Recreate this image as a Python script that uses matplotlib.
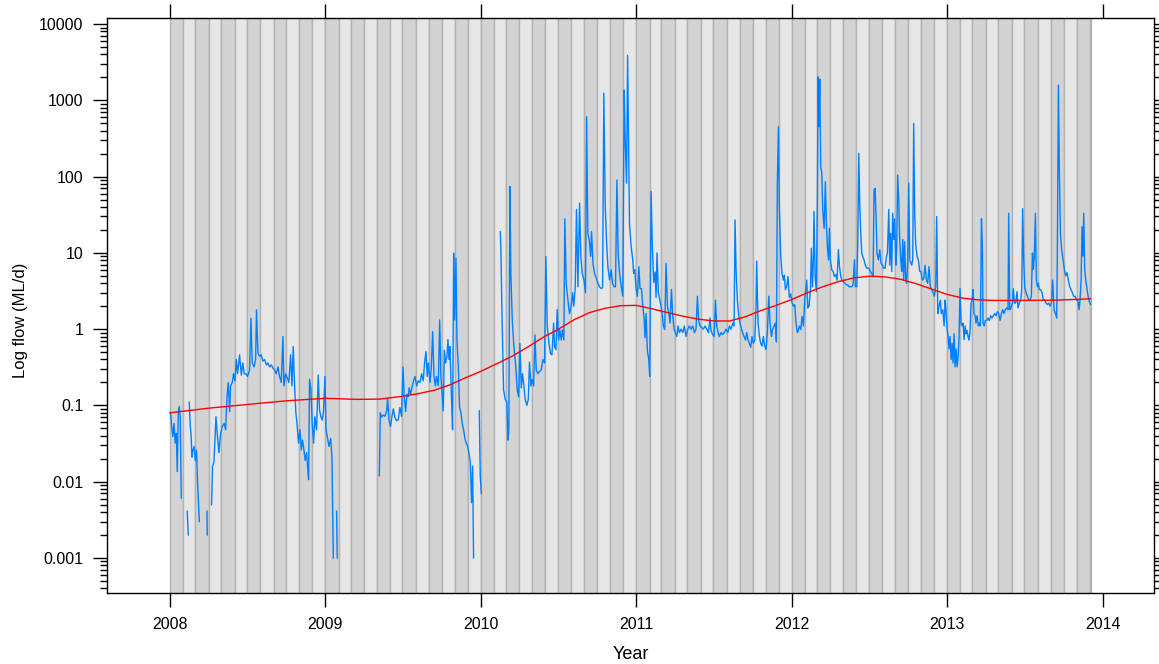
import numpy as np
import matplotlib
matplotlib.use("Agg")
import matplotlib.pyplot as plt
from matplotlib.patches import Rectangle
import datetime as dt

matplotlib.rcParams['font.family'] = ['Liberation Sans', 'DejaVu Sans']
matplotlib.rcParams['font.size'] = 11

nan = np.nan

# daily flow (ML/d), decimal year; nan = gap / zero flow
flow_year = [
    2008.004, 2008.011, 2008.019, 2008.026, 2008.034, 2008.041, 2008.047, 2008.054, 2008.060, 2008.066, 2008.073, 2008.075,
    2008.111, 2008.118, 2008.120,
    2008.124, 2008.131, 2008.137, 2008.141, 2008.148, 2008.156, 2008.163, 2008.171, 2008.178, 2008.189, 2008.19,
    2008.238, 2008.240, 2008.242,
    2008.268, 2008.274, 2008.283, 2008.296, 2008.304, 2008.315, 2008.326, 2008.337, 2008.349, 2008.358,
    2008.367, 2008.375, 2008.384, 2008.390, 2008.401, 2008.409, 2008.418, 2008.427, 2008.435, 2008.448,
    2008.459, 2008.469, 2008.478, 2008.489, 2008.499, 2008.512, 2008.521, 2008.529, 2008.542, 2008.551,
    2008.557, 2008.566, 2008.577, 2008.587, 2008.598, 2008.609, 2008.620, 2008.630, 2008.641, 2008.652,
    2008.662, 2008.673, 2008.684, 2008.695, 2008.705, 2008.716, 2008.727, 2008.733, 2008.744, 2008.755,
    2008.765, 2008.776, 2008.785, 2008.793, 2008.802, 2008.810, 2008.819, 2008.827, 2008.836, 2008.845,
    2008.853, 2008.862, 2008.870, 2008.879, 2008.885, 2008.892, 2008.898, 2008.907, 2008.915, 2008.924,
    2008.932, 2008.943, 2008.954, 2008.962, 2008.971, 2008.980, 2008.988, 2008.997, 2009.004, 2009.012,
    2009.023, 2009.034, 2009.042, 2009.051, 2009.053,
    2009.072, 2009.076, 2009.078,
    2009.347, 2009.353, 2009.361, 2009.372, 2009.383, 2009.394, 2009.400, 2009.409, 2009.419, 2009.428,
    2009.437, 2009.447, 2009.458, 2009.469, 2009.479, 2009.490, 2009.499, 2009.507, 2009.516, 2009.524,
    2009.533, 2009.539, 2009.548, 2009.559, 2009.567, 2009.576, 2009.587, 2009.597, 2009.608, 2009.619,
    2009.629, 2009.638, 2009.647, 2009.655, 2009.662, 2009.673, 2009.681, 2009.690, 2009.698, 2009.707,
    2009.715, 2009.726, 2009.735, 2009.743, 2009.752, 2009.758, 2009.765, 2009.773, 2009.782, 2009.788,
    2009.795, 2009.801, 2009.808, 2009.814, 2009.818, 2009.825, 2009.831, 2009.840, 2009.846, 2009.855,
    2009.863, 2009.872, 2009.880, 2009.889, 2009.897, 2009.906, 2009.915, 2009.923, 2009.932, 2009.940,
    2009.947, 2009.953, 2009.955,
    2009.990, 2009.996, 2010.003, 2010.005,
    2010.125, 2010.129, 2010.135, 2010.146, 2010.157, 2010.167, 2010.174, 2010.180, 2010.187, 2010.193,
    2010.202, 2010.213, 2010.223, 2010.234, 2010.243, 2010.251, 2010.260, 2010.268, 2010.277, 2010.285,
    2010.296, 2010.305, 2010.313, 2010.322, 2010.330, 2010.339, 2010.348, 2010.356, 2010.367, 2010.378,
    2010.388, 2010.399, 2010.410, 2010.418, 2010.427, 2010.438, 2010.448, 2010.457, 2010.468, 2010.474,
    2010.483, 2010.491, 2010.500, 2010.508, 2010.517, 2010.525, 2010.534, 2010.540, 2010.549, 2010.560,
    2010.570, 2010.581, 2010.590, 2010.598, 2010.607, 2010.615, 2010.624, 2010.635, 2010.643, 2010.652,
    2010.663, 2010.673, 2010.680, 2010.688, 2010.697, 2010.706, 2010.712, 2010.721, 2010.731, 2010.742,
    2010.753, 2010.763, 2010.774, 2010.783, 2010.791, 2010.800, 2010.808, 2010.817, 2010.828, 2010.838,
    2010.847, 2010.856, 2010.866, 2010.875, 2010.883, 2010.892, 2010.903, 2010.913, 2010.922, 2010.928,
    2010.937, 2010.944, 2010.950, 2010.956, 2010.967,
    2010.977, 2010.983, 2010.990, 2010.998, 2011.007, 2011.016, 2011.024, 2011.033, 2011.041, 2011.050,
    2011.056, 2011.063, 2011.071, 2011.080, 2011.086, 2011.095, 2011.103, 2011.112, 2011.121, 2011.127,
    2011.133, 2011.142, 2011.151, 2011.159, 2011.166, 2011.174, 2011.183, 2011.191, 2011.200, 2011.209,
    2011.217, 2011.226, 2011.234, 2011.243, 2011.251, 2011.260, 2011.268, 2011.277, 2011.288, 2011.299,
    2011.309, 2011.320, 2011.331, 2011.341, 2011.352, 2011.363, 2011.374, 2011.384, 2011.393, 2011.401,
    2011.410, 2011.421, 2011.431, 2011.442, 2011.453, 2011.464, 2011.474, 2011.481, 2011.491, 2011.500,
    2011.509, 2011.517, 2011.526, 2011.534, 2011.545, 2011.556, 2011.566, 2011.577, 2011.588, 2011.599,
    2011.609, 2011.620, 2011.629, 2011.635, 2011.642, 2011.650, 2011.659, 2011.667, 2011.676, 2011.684,
    2011.693, 2011.702, 2011.710, 2011.719, 2011.727, 2011.736, 2011.744, 2011.753, 2011.762, 2011.770,
    2011.774, 2011.783, 2011.792, 2011.800, 2011.809, 2011.817, 2011.826, 2011.834, 2011.843, 2011.852,
    2011.860, 2011.869, 2011.877, 2011.886, 2011.894, 2011.901, 2011.907, 2011.914, 2011.920, 2011.929,
    2011.937, 2011.946, 2011.952, 2011.959, 2011.967, 2011.976, 2011.984, 2011.993, 2012.002, 2012.010,
    2012.019, 2012.027, 2012.036,
    2012.040, 2012.049, 2012.058, 2012.066, 2012.075, 2012.083, 2012.090, 2012.096, 2012.103, 2012.111,
    2012.120, 2012.126, 2012.133, 2012.139, 2012.143, 2012.150, 2012.158, 2012.165, 2012.169, 2012.175,
    2012.180, 2012.186, 2012.193, 2012.199, 2012.208, 2012.216, 2012.223, 2012.229, 2012.236, 2012.242,
    2012.248, 2012.257, 2012.266, 2012.274, 2012.283, 2012.291, 2012.300, 2012.306, 2012.315, 2012.323,
    2012.332, 2012.343, 2012.351, 2012.360, 2012.368, 2012.377, 2012.386, 2012.394, 2012.403, 2012.409,
    2012.418, 2012.424, 2012.431, 2012.437, 2012.443, 2012.450, 2012.456, 2012.465, 2012.473, 2012.482,
    2012.491, 2012.497, 2012.506, 2012.514, 2012.523, 2012.529, 2012.536, 2012.542, 2012.548, 2012.557,
    2012.566, 2012.574, 2012.583, 2012.591, 2012.600, 2012.609, 2012.615, 2012.624, 2012.630, 2012.636,
    2012.643, 2012.649, 2012.656, 2012.662, 2012.669, 2012.675, 2012.681, 2012.688, 2012.694, 2012.701,
    2012.707, 2012.714, 2012.720, 2012.726, 2012.733, 2012.739, 2012.746, 2012.752, 2012.759, 2012.765,
    2012.771, 2012.778, 2012.784, 2012.791, 2012.797, 2012.806, 2012.814, 2012.823, 2012.831, 2012.840,
    2012.849, 2012.857, 2012.866, 2012.874, 2012.883, 2012.891, 2012.900, 2012.909, 2012.917, 2012.926,
    2012.932, 2012.939, 2012.947, 2012.956, 2012.962, 2012.971,
    2012.980, 2012.986, 2012.992, 2012.999, 2013.005, 2013.012, 2013.018, 2013.025, 2013.031, 2013.037,
    2013.044, 2013.050, 2013.057, 2013.063, 2013.070, 2013.076, 2013.082, 2013.089, 2013.095, 2013.102,
    2013.108, 2013.115, 2013.121, 2013.127, 2013.134, 2013.140, 2013.147, 2013.153, 2013.160, 2013.166,
    2013.172, 2013.179, 2013.185, 2013.192, 2013.200, 2013.207, 2013.213, 2013.220, 2013.226, 2013.230,
    2013.237, 2013.245, 2013.254, 2013.263, 2013.271, 2013.280, 2013.288, 2013.297, 2013.305, 2013.314,
    2013.323, 2013.331, 2013.340, 2013.348, 2013.357, 2013.365, 2013.374, 2013.383, 2013.391, 2013.395,
    2013.402, 2013.410, 2013.419, 2013.425, 2013.432, 2013.440, 2013.449, 2013.455, 2013.464, 2013.473,
    2013.479, 2013.485, 2013.492, 2013.498, 2013.507, 2013.516, 2013.524, 2013.533, 2013.541, 2013.548,
    2013.554, 2013.560, 2013.567, 2013.573, 2013.580, 2013.586, 2013.593, 2013.601, 2013.610, 2013.618,
    2013.627, 2013.635, 2013.644, 2013.653, 2013.661, 2013.670, 2013.678, 2013.687, 2013.696, 2013.704,
    2013.708, 2013.715, 2013.721, 2013.728, 2013.736, 2013.745, 2013.753, 2013.762, 2013.770, 2013.779,
    2013.788, 2013.796, 2013.805, 2013.813, 2013.822, 2013.831, 2013.839, 2013.848, 2013.854, 2013.861,
    2013.867, 2013.873, 2013.878, 2013.884, 2013.891, 2013.897, 2013.906, 2013.914, 2013.922,
]
flow_val = [
    0.081, 0.053, 0.039, 0.058, 0.032, 0.043, 0.0136, 0.083, 0.097, 0.071, 0.0061, nan,
    0.0041, 0.002, nan,
    0.11, 0.053, 0.039, 0.021, 0.026, 0.029, 0.019, 0.026, 0.0095, 0.003, nan,
    0.0041, 0.002, nan,
    0.005, 0.016, 0.018, 0.071, 0.043, 0.024, 0.043, 0.053, 0.058, 0.048,
    0.13, 0.20, 0.083, 0.18, 0.20, 0.26, 0.21, 0.40, 0.26, 0.46,
    0.25, 0.36, 0.26, 0.26, 0.24, 0.29, 1.39, 0.36, 0.32, 0.40,
    1.79, 0.48, 0.44, 0.46, 0.38, 0.40, 0.34, 0.36, 0.32, 0.34,
    0.31, 0.29, 0.26, 0.32, 0.24, 0.20, 0.80, 0.18, 0.26, 0.23,
    0.20, 0.46, 0.18, 0.59, 0.18, 0.08, 0.053, 0.032, 0.048, 0.026,
    0.035, 0.026, 0.019, 0.024, 0.016, 0.0106, 0.22, 0.16, 0.058, 0.032,
    0.071, 0.048, 0.25, 0.088, 0.071, 0.064, 0.085, 0.24, 0.048, 0.039,
    0.029, 0.037, 0.021, 0.001, nan,
    0.0041, 0.001, nan,
    0.012, 0.08, 0.07, 0.075, 0.072, 0.085, 0.124, 0.064, 0.053, 0.072,
    0.09, 0.07, 0.063, 0.065, 0.094, 0.072, 0.32, 0.13, 0.083, 0.14,
    0.13, 0.17, 0.14, 0.18, 0.21, 0.24, 0.18, 0.21, 0.20, 0.26,
    0.21, 0.36, 0.51, 0.24, 0.36, 0.20, 0.31, 0.93, 0.25, 0.18,
    0.24, 0.18, 1.32, 0.24, 0.13, 0.085, 0.53, 0.36, 0.44, 0.73,
    0.40, 0.59, 0.20, 0.08, 0.048, 9.9, 1.32, 8.5, 0.73, 0.32,
    0.094, 0.08, 0.058, 0.048, 0.037, 0.032, 0.029, 0.024, 0.018, 0.0053,
    0.016, 0.001, nan,
    0.085, 0.012, 0.007, nan,
    19, 11, 2.0, 0.16, 0.12, 0.11, 0.035, 0.048, 74, 5.4,
    1.3, 0.58, 0.35, 0.16, 0.13, 0.65, 0.17, 0.26, 0.18, 0.12,
    0.10, 0.12, 0.37, 0.18, 0.22, 0.18, 0.84, 0.29, 0.26, 0.28,
    0.29, 0.40, 0.36, 9.0, 1.1, 0.65, 0.48, 0.46, 1.2, 0.59,
    0.54, 1.8, 0.72, 0.98, 0.72, 0.98, 0.72, 28, 3.9, 2.4,
    1.6, 2.0, 3.0, 2.0, 3.6, 37, 3.6, 45, 9.0, 5.4,
    4.4, 3.0, 611, 18, 14.8, 9.0, 19, 7.3, 5.4, 4.7,
    4.0, 3.6, 3.4, 3.5, 1240, 41, 15, 6.6, 4.4, 6.0,
    4.0, 3.6, 3.6, 90, 9.9, 5.4, 3.6, 2.7, 1360, 334,
    82, 3900, 300, 24, 12,
    8.1, 5.4, 6.0, 3.4, 2.7, 6.6, 3.4, 3.4, 2.1, 1.4,
    0.77, 1.6, 0.52, 0.40, 0.24, 64, 12, 4.1, 5.6, 2.6,
    10, 3.0, 2.4, 2.0, 1.6, 1.1, 0.99, 7.3, 2.0, 1.6,
    1.2, 3.3, 1.5, 1.0, 0.9, 0.8, 1.1, 0.9, 1.0, 0.9,
    1.1, 0.8, 1.0, 1.1, 1.0, 1.1, 0.9, 1.0, 2.7, 1.3,
    1.1, 1.05, 1.0, 1.1, 1.0, 0.9, 1.4, 0.95, 0.85, 0.8,
    2.4, 1.1, 0.9, 0.8, 0.9, 0.85, 0.9, 1.0, 0.9, 1.1,
    1.0, 1.2, 1.1, 27, 5.6, 2.4, 1.5, 1.2, 1.0, 0.9,
    0.8, 0.72, 0.9, 0.72, 0.65, 0.58, 0.8, 0.65, 0.72, 2.0,
    7.8, 1.2, 0.8, 0.65, 0.6, 0.8, 0.6, 0.54, 0.9, 2.7,
    1.2, 0.8, 1.0, 1.1, 1.2, 0.68, 82, 452, 41, 9.0,
    5.4, 4.4, 5.1, 3.3, 3.6, 4.9, 2.6, 2.9, 2.2, 2.0,
    2.1, 1.2, 0.9,
    0.93, 1.1, 0.99, 1.47, 1.1, 2.4, 3.3, 4.4, 1.9, 2.0,
    3.3, 11.5, 3.6, 8.1, 35, 4.9, 3.1, 60, 2040, 452,
    1900, 135, 110, 37, 21, 86, 22, 12, 8.1, 21,
    8.1, 6.0, 5.7, 4.9, 5.2, 4.4, 11, 6.9, 4.9, 4.4,
    4.2, 4.0, 3.8, 3.8, 3.6, 3.6, 3.6, 3.8, 8.1, 3.6,
    3.6, 12, 202, 44, 20, 9.9, 9.0, 8.1, 6.9, 6.3,
    6.3, 6.3, 5.7, 5.4, 4.9, 67, 70, 30, 9.9, 8.1,
    11, 7.3, 6.9, 6.3, 6.3, 9.0, 9.9, 37, 6.9, 18,
    5.7, 33, 15, 28, 6.9, 12, 105, 49, 15, 8.1,
    5.7, 15, 4.4, 14, 4.4, 4.0, 8.1, 82, 8.1, 7.5,
    6.9, 8.1, 500, 30, 13, 9.0, 8.1, 5.7, 5.7, 4.4,
    4.6, 6.9, 4.4, 4.0, 6.6, 3.6, 3.3, 3.0, 2.7, 3.6,
    30, 1.6, 2.0, 2.4, 1.6, 1.8,
    1.1, 2.4, 1.8, 1.0, 0.8, 0.55, 0.8, 0.40, 0.65, 0.36,
    0.87, 0.32, 0.55, 0.32, 0.44, 0.8, 3.4, 1.2, 1.1, 1.2,
    0.73, 1.1, 0.87, 0.96, 0.8, 0.72, 0.96, 2.2, 2.4, 3.3,
    1.6, 1.5, 1.2, 1.5, 1.1, 1.2, 1.1, 28, 12, 1.2,
    1.1, 1.3, 1.3, 1.4, 1.3, 1.5, 1.4, 1.5, 1.6, 1.5,
    1.7, 1.6, 1.3, 1.6, 1.8, 1.6, 1.8, 1.9, 1.8, 33,
    1.8, 1.9, 2.2, 3.4, 2.2, 2.2, 3.1, 1.9, 2.2, 2.4,
    3.3, 38, 7.7, 3.6, 3.0, 2.7, 2.4, 2.4, 2.7, 10,
    6.1, 9.1, 33, 4.4, 3.6, 4.0, 3.3, 3.3, 3.0, 2.4,
    2.4, 2.2, 2.1, 2.2, 2.0, 2.2, 4.4, 1.8, 1.6, 1.4,
    9.1, 1590, 122, 18, 10.9, 8.1, 6.1, 5.0, 5.5, 4.4,
    3.6, 3.3, 3.0, 2.7, 2.7, 2.4, 2.4, 1.8, 2.4, 4.4,
    22, 9.1, 33, 6.1, 4.4, 3.6, 2.7, 2.3, 2.1,
]

# smoothed trend (red line)
trend_year = [2008.0, 2008.25, 2008.5, 2008.75, 2009.0, 2009.2, 2009.35, 2009.5, 2009.6, 2009.7,
              2009.8, 2009.9, 2010.0, 2010.1, 2010.2, 2010.3, 2010.4, 2010.5, 2010.6, 2010.7,
              2010.8, 2010.9, 2011.0, 2011.1, 2011.2, 2011.3, 2011.4, 2011.5, 2011.6, 2011.7,
              2011.8, 2011.9, 2012.0, 2012.1, 2012.2, 2012.3, 2012.4, 2012.5, 2012.6, 2012.7,
              2012.8, 2012.9, 2013.0, 2013.1, 2013.2, 2013.3, 2013.5, 2013.7, 2013.922]
trend_val = [0.080, 0.092, 0.103, 0.115, 0.124, 0.120, 0.121, 0.132, 0.143, 0.158,
             0.186, 0.23, 0.28, 0.35, 0.44, 0.58, 0.78, 1.0, 1.33, 1.65,
             1.88, 2.03, 2.05, 1.85, 1.65, 1.48, 1.35, 1.28, 1.28, 1.45,
             1.75, 2.05, 2.45, 3.0, 3.6, 4.2, 4.7, 4.95, 4.85, 4.5,
             3.95, 3.35, 2.85, 2.55, 2.42, 2.38, 2.38, 2.4, 2.5]

year_ticks = [2008, 2009, 2010, 2011, 2012, 2013, 2014]
flow_ticks = [0.001, 0.01, 0.1, 1, 10, 100, 1000, 10000]
flow_tick_labels = ["0.001", "0.01", "0.1", "1", "10", "100", "1000", "10000"]


def dec_year(d):
    start = dt.date(d.year, 1, 1)
    ndays = (dt.date(d.year + 1, 1, 1) - start).days
    return d.year + (d - start).days / ndays


fig = plt.figure(figsize=(11.59, 6.64), dpi=100)
ax = fig.add_axes([0.0923, 0.1069, 0.9034, 0.866])

# monthly shading bands
x = np.array(flow_year)
end_x = x[-1]
m = 0
while True:
    y0, mo = 2008 + m // 12, m % 12 + 1
    a = dec_year(dt.date(y0, mo, 1))
    if a >= end_x:
        break
    ny, nm = (y0 + 1, 1) if mo == 12 else (y0, mo + 1)
    b = min(dec_year(dt.date(ny, nm, 1)), end_x)
    col = '#d3d3d3' if m % 2 == 0 else '#e6e6e6'
    ax.add_patch(Rectangle((a, 1e-6), b - a, 1e8, facecolor=col,
                           edgecolor='#b2b2b2', linewidth=1.0, zorder=1))
    m += 1

ax.plot(x, np.array(flow_val, dtype=float), color='#0080ff', lw=1.0, zorder=3)
ax.plot(trend_year, trend_val, color='#ff0000', lw=1.0, zorder=4)

ax.set_yscale('log')
ax.set_xlim(2007.595, 2014.33)
ax.set_ylim(10 ** -3.46, 10 ** 4.08)
ax.set_xticks(year_ticks)
ax.set_xticklabels([str(t) for t in year_ticks])
ax.set_yticks(flow_ticks)
ax.set_yticklabels(flow_tick_labels)
ax.tick_params(which='major', direction='out', length=10, width=1, top=True, right=True,
               labeltop=False, labelright=False, labelsize=11.5, pad=7)
ax.tick_params(which='minor', direction='out', length=5, width=1, left=True, right=True)
ax.tick_params(axis='x', which='minor', bottom=False, top=False)
ax.yaxis.set_minor_formatter(matplotlib.ticker.NullFormatter())
for s in ax.spines.values():
    s.set_linewidth(1.0)

ax.set_xlabel("Year", fontsize=13, labelpad=10)
ax.set_ylabel("Log flow (ML/d)", fontsize=12)
ax.yaxis.set_label_coords(-0.075, 0.475)

plt.savefig('out.png', dpi=100)
